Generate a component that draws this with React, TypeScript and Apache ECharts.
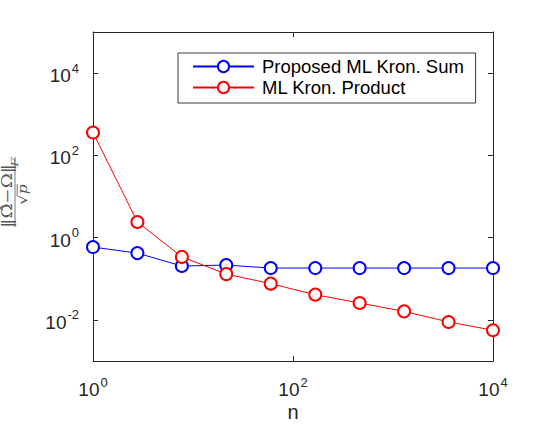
import React, { useEffect, useRef } from 'react';
import * as echarts from 'echarts';

// Values
const nValues = [1, 2.78, 7.74, 21.5, 59.9, 167, 464, 1292, 3594, 10000];
const kronSum = [0.59, 0.42, 0.204, 0.215, 0.182, 0.182, 0.182, 0.182, 0.182, 0.182];
const kronProduct = [359, 2.4, 0.34, 0.13, 0.076, 0.041, 0.0257, 0.0161, 0.0089, 0.0056];
const seriesNames = ['Proposed ML Kron. Sum', 'ML Kron. Product'];
const xTickExps = [0, 2, 4];
const yTickExps = [-2, 0, 2, 4];
const xName = 'n';

const SANS = '"Liberation Sans", Arial, Helvetica, sans-serif';
const SERIF = '"DejaVu Serif", "Liberation Serif", serif';
const AX = '#262626';
const LBL = '#555555';

const toLogPairs = (xs: number[], ys: number[]) => xs.map((x, i) => [Math.log10(x), Math.log10(ys[i])]);

const tickRich = {
  b: { fontSize: 19, fontFamily: SANS, color: AX, padding: [5, 0, 0, 0] },
  e: { fontSize: 13, fontFamily: SANS, color: AX, padding: [0, 0, 10, 1] },
};
const expFormatter = (v: number) => `{b|10}{e|${Math.round(v)}}`;

export default function App() {
  const ref = useRef<HTMLDivElement>(null);
  useEffect(() => {
    const chart = echarts.init(ref.current!, null, { renderer: 'svg' });
    const axisCommon = {
      type: 'value' as const,
      axisLine: { show: true, onZero: false, lineStyle: { color: AX, width: 1 } },
      splitLine: { show: false },
    };
    chart.setOption({
      animation: false,
      backgroundColor: '#ffffff',
      grid: { left: 93, right: 53, top: 32, bottom: 64, containLabel: false, outerBoundsMode: 'none' },
      xAxis: [
        {
          ...axisCommon,
          position: 'bottom',
          min: 0,
          max: 4,
          interval: 2,
          axisTick: { show: true, inside: true, length: 5, lineStyle: { color: AX }, customValues: xTickExps },
          axisLabel: { show: true, margin: 14, formatter: expFormatter, rich: tickRich, customValues: xTickExps },
          name: xName,
          nameLocation: 'middle',
          nameGap: 41,
          nameMoveOverlap: false,
          nameTextStyle: { fontSize: 20, lineHeight: 20, fontFamily: SANS, color: AX },
        },
        {
          ...axisCommon,
          position: 'top',
          min: 0,
          max: 4,
          interval: 2,
          axisTick: { show: true, inside: true, length: 5, lineStyle: { color: AX }, customValues: xTickExps },
          axisLabel: { show: false },
        },
      ],
      yAxis: [
        {
          ...axisCommon,
          position: 'left',
          min: -3,
          max: 5,
          axisTick: { show: true, inside: true, length: 5, lineStyle: { color: AX }, customValues: yTickExps },
          axisLabel: { show: true, margin: 14, formatter: expFormatter, rich: tickRich, customValues: yTickExps },
        },
        {
          ...axisCommon,
          position: 'right',
          min: -3,
          max: 5,
          axisTick: { show: true, inside: true, length: 5, lineStyle: { color: AX }, customValues: yTickExps },
          axisLabel: { show: false },
        },
      ],
      legend: {
        orient: 'vertical',
        left: 178,
        top: 53,
        padding: [4, 11, 6, 14],
        itemGap: 2,
        itemWidth: 61,
        itemHeight: 14,
        backgroundColor: '#ffffff',
        borderColor: '#3a3a3a',
        borderWidth: 1,
        borderRadius: 0,
        data: seriesNames,
        textStyle: { fontSize: 18.5, lineHeight: 18, fontFamily: SANS, color: '#000', padding: [0, 0, 0, 3] },
      },
      series: [
        {
          name: seriesNames[0],
          type: 'line',
          data: toLogPairs(nValues, kronSum),
          symbol: 'emptyCircle',
          symbolSize: 12,
          lineStyle: { color: '#0000ff', width: 1 },
          itemStyle: { color: '#0000ff', borderColor: '#0000ff', borderWidth: 2 },
          z: 2,
        },
        {
          name: seriesNames[1],
          type: 'line',
          data: toLogPairs(nValues, kronProduct),
          symbol: 'emptyCircle',
          symbolSize: 12,
          lineStyle: { color: '#ff0000', width: 1 },
          itemStyle: { color: '#ff0000', borderColor: '#ff0000', borderWidth: 2 },
          z: 3,
        },
      ],
      graphic: [
        {
          type: 'group',
          x: 15,
          y: 192,
          rotation: Math.PI / 2,
          scaleX: 1.3,
          children: [
            { type: 'line', shape: { x1: -27, y1: 0, x2: 27, y2: 0 }, style: { stroke: LBL, lineWidth: 0.8 } },
            {
              type: 'text',
              x: -3,
              y: -1,
              style: {
                text: '‖Ω\u0302−Ω‖',
                align: 'center',
                verticalAlign: 'bottom',
                fontSize: 14,
                lineHeight: 13,
                fontFamily: SERIF,
                fill: LBL,
              },
            },
            {
              type: 'text',
              x: 19.5,
              y: -5,
              style: {
                text: 'F',
                align: 'left',
                verticalAlign: 'top',
                fontSize: 10,
                lineHeight: 10,
                fontStyle: 'italic',
                fontFamily: SERIF,
                fill: LBL,
              },
            },
            {
              type: 'text',
              x: -2,
              y: 1,
              style: {
                text: '{r|√}{p|p}',
                align: 'center',
                verticalAlign: 'top',
                fill: LBL,
                rich: {
                  r: { fontSize: 13, fontFamily: SERIF, fill: LBL },
                  p: { fontSize: 12, fontFamily: SERIF, fontStyle: 'italic', fill: LBL },
                },
              },
            },
            { type: 'line', shape: { x1: -1.7, y1: 2.2, x2: 6, y2: 2.2 }, style: { stroke: LBL, lineWidth: 0.7 } },
          ],
        },
      ],
    });
    return () => chart.dispose();
  }, []);
  return <div ref={ref} style={{ position: 'absolute', left: 0, top: 0, width: 546, height: 425 }} />;
}
